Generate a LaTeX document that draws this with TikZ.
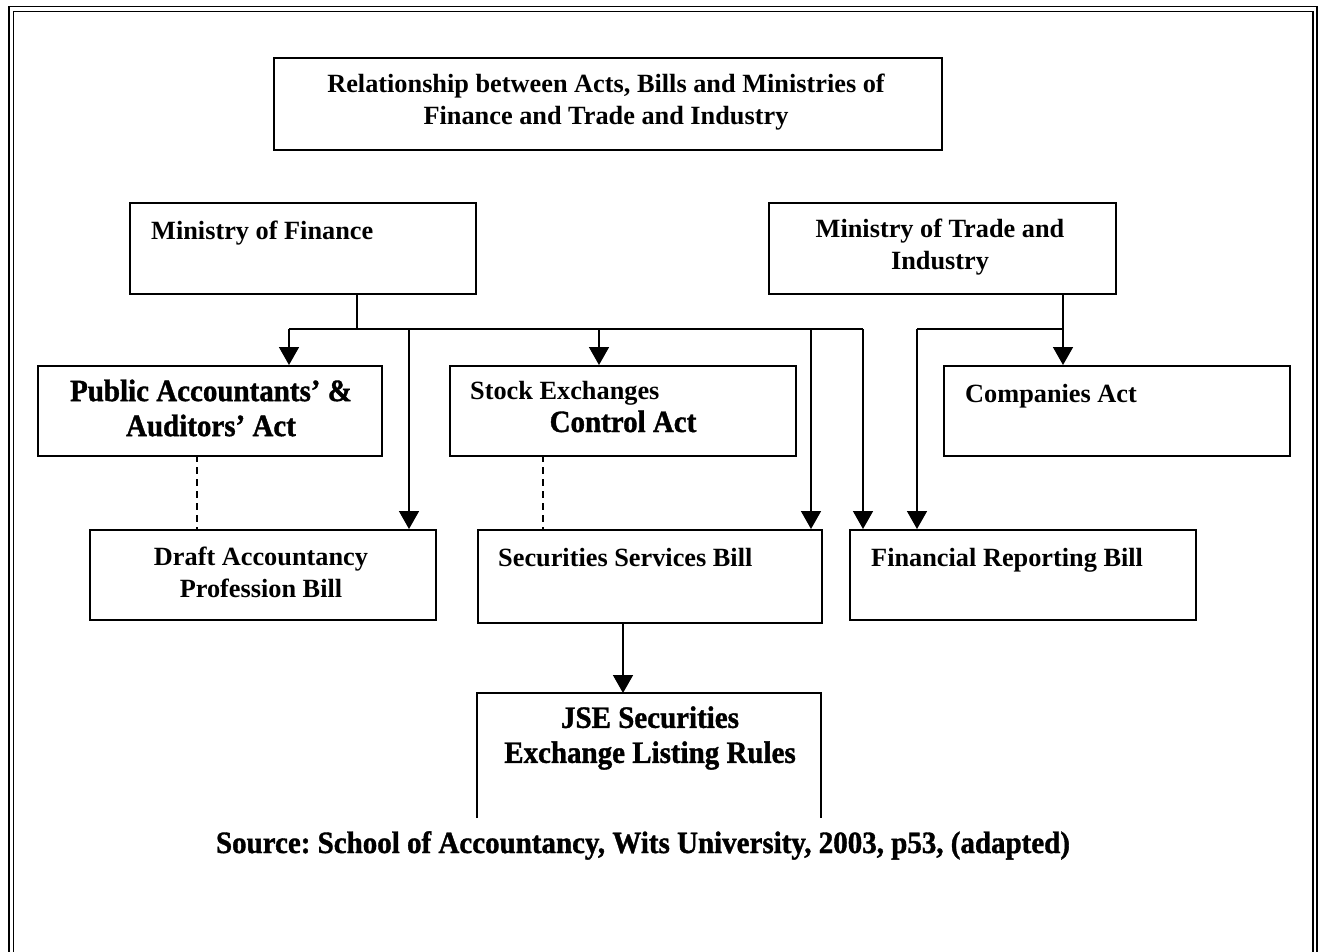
\documentclass[tikz,border=0pt]{standalone}
\usepackage{fontspec}
\setmainfont{Liberation Serif}
\newfontfamily\heavyfont{Liberation Serif}[BoldFeatures={FakeBold=1.2,FakeStretch=0.935}]
\usetikzlibrary{arrows.meta}
\frenchspacing
\tikzset{
  box/.style={draw, line width=1.6pt, rectangle, inner sep=0pt, anchor=north west},
  txt/.style={inner sep=0pt, font=\fontsize{26.3}{32}\selectfont\bfseries},
  bigtxt/.style={inner sep=0pt, font=\fontsize{31}{35}\selectfont\heavyfont\bfseries},
  link/.style={line width=1.6pt},
  arr/.style={line width=1.6pt, -{Triangle[width=20pt,length=18pt]}},
  dashlink/.style={line width=1.4pt, dash pattern=on 7pt off 5pt}
}
\begin{document}
\begin{tikzpicture}[x=1pt,y=-1pt]
\useasboundingbox (0,0) rectangle (1321,951);
% double frame round the page
\draw[line width=1.6pt] (9,980) -- (9,6.5) -- (1317,6.5) -- (1317,980);
\draw[line width=1.6pt] (13.5,980) -- (13.5,11.5) -- (1313,11.5) -- (1313,980);

% boxes
\node[box, minimum width=668, minimum height=92] (title) at (273,57) {};
\node[box, minimum width=346, minimum height=91] (mof) at (129,202) {};
\node[box, minimum width=347, minimum height=91] (mti) at (768,202) {};
\node[box, minimum width=344, minimum height=90] (pa) at (37,365) {};
\node[box, minimum width=346, minimum height=90] (se) at (449,365) {};
\node[box, minimum width=346, minimum height=90] (ca) at (943,365) {};
\node[box, minimum width=346, minimum height=90] (dap) at (89,529) {};
\node[box, minimum width=344, minimum height=93] (ssb) at (477,529) {};
\node[box, minimum width=346, minimum height=90] (frb) at (849,529) {};
% listing rules box, open at the bottom
\coordinate (jse) at (477,693);
\coordinate (jser) at (821,693);
\draw[link] (477,818) -- (jse) -- (jser) -- (821,818);

% texts
\node[txt, align=center] (ttitle) at (606,102) {Relationship between Acts, Bills and Ministries of\\Finance and Trade and Industry};
\node[txt, anchor=base west] (tmof) at (151,239) {Ministry of Finance};
\node[txt, align=center] (tmti) at (940,247) {Ministry of Trade and\\Industry};
\node[bigtxt, align=center] (tpa) at (211,408) {Public Accountants’ \&\\Auditors’ Act};
\node[txt, anchor=base west] (tse1) at (470,399) {Stock Exchanges};
\node[bigtxt, anchor=base] (tse2) at (623,432) {Control Act};
\node[txt, anchor=base west] (tca) at (965,402) {Companies Act};
\node[txt, align=center] (tdap) at (261,572) {Draft Accountancy\\Profession Bill};
\node[txt, anchor=base west] (tssb) at (498,566) {Securities Services Bill};
\node[txt, anchor=base west] (tfrb) at (871,566) {Financial Reporting Bill};
\node[bigtxt, align=center] (tjse) at (650,738) {JSE Securities\\Exchange Listing Rules};
\node[bigtxt, anchor=base] (tsrc) at (643,853) {Source: School of Accountancy, Wits University, 2003, p53, (adapted)};

% Ministry of Finance distribution line
\coordinate (mofj) at (357,329);
\coordinate (busl) at (289,329);
\coordinate (busd) at (409,329);
\coordinate (buss) at (599,329);
\coordinate (busb) at (811,329);
\coordinate (busr) at (863,329);
\draw[link] (mofj |- mof.south) -- (mofj);
\draw[link] (busl) -- (busr);
\draw[arr] (busl) -- (busl |- pa.north);
\draw[arr] (busd) -- (busd |- dap.north);
\draw[arr] (buss) -- (buss |- se.north);
\draw[arr] (busb) -- (busb |- ssb.north);
\draw[arr] (busr) -- (busr |- frb.north);

% Ministry of Trade and Industry distribution line
\coordinate (mtij) at (1063,329);
\coordinate (mtil) at (917,329);
\draw[arr] (mtij |- mti.south) -- (mtij |- ca.north);
\draw[link] (mtij) -- (mtil);
\draw[arr] (mtil) -- (mtil |- frb.north);

% dashed links
\coordinate (dpa) at (197,455);
\coordinate (dse) at (543,455);
\draw[dashlink] (dpa) -- (dpa |- dap.north);
\draw[dashlink] (dse) -- (dse |- ssb.north);

% bill to listing rules
\coordinate (ssbout) at (623,622);
\draw[arr] (ssbout) -- (ssbout |- jse);
\end{tikzpicture}
\end{document}
